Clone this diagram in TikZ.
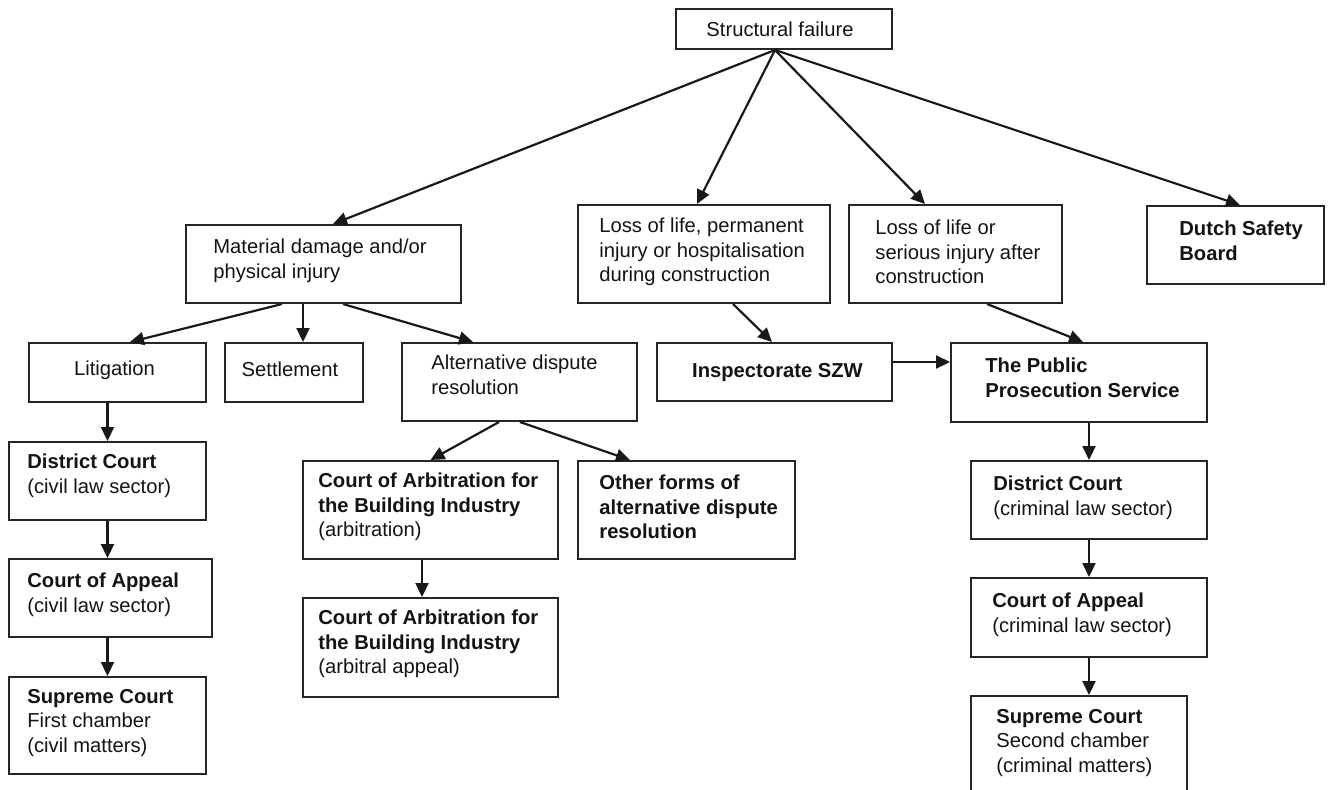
\documentclass[tikz,border=0pt]{standalone}
\usepackage{fontspec}
\setmainfont{Liberation Sans}
\usetikzlibrary{arrows.meta}
\tikzset{
  box/.style={draw=black!85, line width=1pt, inner sep=0pt, fill=white},
  txt/.style={align=left, inner sep=0pt, text=black!92, font=\fontsize{10.1}{12.25}\selectfont},
  arr/.style={line width=1.1pt, draw=black!90, -{Triangle[length=7pt,width=6.5pt]}}
}
\begin{document}
\begin{tikzpicture}[x=0.5pt,y=-0.5pt]
\useasboundingbox (0,0) rectangle (1330,789);
\clip (0,0) rectangle (1330,789);
% boxes
\node[box, minimum width=108pt,   minimum height=20pt]   (sf)   at (784,29) {};
\node[box, minimum width=137.5pt, minimum height=39pt]   (md)   at (323.5,264) {};
\node[box, minimum width=126pt,   minimum height=49pt]   (l1)   at (704,254) {};
\node[box, minimum width=106.5pt, minimum height=49pt]   (l2)   at (955.5,254) {};
\node[box, minimum width=88.5pt,  minimum height=39pt]   (dsb)  at (1235.5,245) {};
\node[box, minimum width=88.5pt,  minimum height=29.5pt] (lit)  at (117.5,372.5) {};
\node[box, minimum width=69pt,    minimum height=29.5pt] (set)  at (294,372.5) {};
\node[box, minimum width=117.5pt, minimum height=39pt]   (adr)  at (519.5,382) {};
\node[box, minimum width=117.5pt, minimum height=29pt]   (insp) at (774.5,372) {};
\node[box, minimum width=128pt,   minimum height=39.5pt] (pps)  at (1079,382.5) {};
\node[box, minimum width=98.5pt,  minimum height=39pt]   (dcc)  at (107.5,481) {};
\node[box, minimum width=101.5pt, minimum height=39pt]   (cac)  at (110.5,598) {};
\node[box, minimum width=98.5pt,  minimum height=48.5pt] (scc)  at (107.5,725.5) {};
\node[box, minimum width=127.5pt, minimum height=49pt]   (arb)  at (430.5,510) {};
\node[box, minimum width=108.5pt, minimum height=49pt]   (oth)  at (686.5,510) {};
\node[box, minimum width=127.5pt, minimum height=49.5pt] (arbb) at (430.5,647.5) {};
\node[box, minimum width=118pt,   minimum height=39pt]   (dcr)  at (1089,500) {};
\node[box, minimum width=118pt,   minimum height=39.5pt] (car)  at (1089,617.5) {};
\node[box, minimum width=108pt,   minimum height=52pt]   (scr)  at (1079,748) {};
% texts
\node[txt] (sft) at (780,29) {Structural failure};
\node[txt, anchor=west] (mdt) at (213,261) {Material damage and/or\\physical injury};
\node[txt, anchor=west] (l1t) at (599,252) {Loss of life, permanent\\injury or hospitalisation\\during construction};
\node[txt, anchor=west] (l2t) at (875,252) {Loss of life or\\serious injury after\\construction};
\node[txt, anchor=west] (dsbt) at (1179,241) {\bfseries Dutch Safety\\\bfseries Board};
\node[txt] (litt) at (114.5,370) {Litigation};
\node[txt] (sett) at (290,369) {Settlement};
\node[txt, anchor=west] (adrt) at (431,375) {Alternative dispute\\resolution};
\node[txt] (inspt) at (777.5,373) {\bfseries Inspectorate SZW};
\node[txt, anchor=west] (ppst) at (985,378) {\bfseries The Public\\\bfseries Prosecution Service};
\node[txt, anchor=west] (dcct) at (27,476) {\textbf{District Court}\\(civil law sector)};
\node[txt, anchor=west] (cact) at (27,595) {\textbf{Court of Appeal}\\(civil law sector)};
\node[txt, anchor=west] (scct) at (27,723) {\textbf{Supreme Court}\\First chamber\\(civil matters)};
\node[txt, anchor=west] (arbt) at (318,507) {\textbf{Court of Arbitration for}\\\textbf{the Building Industry}\\(arbitration)};
\node[txt, anchor=west] (otht) at (599,507) {\textbf{Other forms of}\\\textbf{alternative dispute}\\\textbf{resolution}};
\node[txt, anchor=west] (arbbt) at (318,644) {\textbf{Court of Arbitration for}\\\textbf{the Building Industry}\\(arbitral appeal)};
\node[txt, anchor=west] (dcrt) at (993,498) {\textbf{District Court}\\(criminal law sector)};
\node[txt, anchor=west] (cart) at (992,615) {\textbf{Court of Appeal}\\(criminal law sector)};
\node[txt, anchor=west] (scrt) at (996,743) {\textbf{Supreme Court}\\Second chamber\\(criminal matters)};
% connectors
\draw[arr] ([xshift=-4.5pt]sf.south) -- ([xshift=4.75pt]md.north);
\draw[arr] ([xshift=-4.5pt]sf.south) -- ([xshift=-3.5pt]l1.north);
\draw[arr] ([xshift=-4.5pt]sf.south) -- ([xshift=-15.25pt]l2.north);
\draw[arr] ([xshift=-4.5pt]sf.south) -- ([xshift=2.25pt]dsb.north);
\draw[arr] ([xshift=-20.75pt]md.south) -- ([xshift=6.25pt]lit.north);
\draw[arr] ([xshift=4.5pt]set.north |- md.south) -- ([xshift=4.5pt]set.north);
\draw[arr] ([xshift=9.75pt]md.south) -- ([xshift=-23.25pt]adr.north);
\draw[arr] ([xshift=14.5pt]l1.south) -- ([xshift=-1.25pt]insp.north);
\draw[arr] ([xshift=15.75pt]l2.south) -- ([xshift=2pt]pps.north);
\draw[arr] ([yshift=5pt]insp.east) -- ([yshift=5pt]insp.east -| pps.west);
\draw[arr] (lit.south -| dcc.north) -- (dcc.north);
\draw[arr] (dcc.south) -- (dcc.south |- cac.north);
\draw[arr] (cac.south -| scc.north) -- (scc.north);
\draw[arr] ([xshift=-10.25pt]adr.south) -- (arb.north);
\draw[arr] ([xshift=0.25pt]adr.south) -- ([xshift=-28.25pt]oth.north);
\draw[arr] ([xshift=-4.25pt]arb.south) -- ([xshift=-4.25pt]arbb.north);
\draw[arr] (pps.south -| dcr.north) -- (dcr.north);
\draw[arr] (dcr.south) -- (car.north);
\draw[arr] (car.south) -- (car.south |- scr.north);
\end{tikzpicture}
\end{document}
